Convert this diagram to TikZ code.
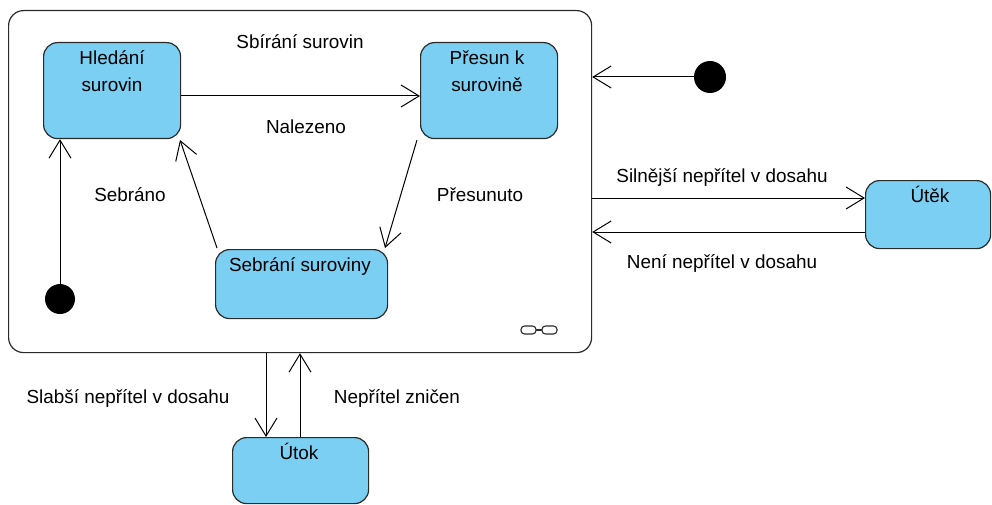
\documentclass[tikz,border=0pt]{standalone}
\usepackage{fontspec}
\setmainfont{Liberation Sans}
\usetikzlibrary{arrows.meta}
\definecolor{statefill}{HTML}{7ACFF2}
\definecolor{edge}{HTML}{2B2B2B}
\begin{document}
\begin{tikzpicture}[x=1pt,y=-1pt,
  every node/.style={font=\fontsize{18.9}{27}\selectfont, text=black},
  statebox/.style={draw=edge, line width=1.2pt, fill=statefill, rounded corners=14pt,
    anchor=north west, inner sep=0pt},
  container/.style={draw=edge, line width=1.2pt, rounded corners=15pt,
    anchor=north west, inner sep=0pt},
  startdot/.style={circle, fill=black, inner sep=0pt},
  trans/.style={draw=black, line width=1pt,
    -{Straight Barb[length=18pt,width=22pt,line width=1pt]}},
  lbl/.style={inner sep=0pt, anchor=center},
  boxtext/.style={anchor=base, inner sep=0pt}]
\useasboundingbox (0,0) rectangle (992,505);

% composite state
\node[container, minimum width=583pt, minimum height=342pt] (cont) at (8,10) {};
\node[lbl] (ctitle) at (300,42) {Sbírání surovin};

% inner states
\node[statebox, minimum width=137pt, minimum height=96pt] (hledani) at (43,42) {};
\node[boxtext] (thledani1) at (112,65) {Hledání};
\node[boxtext] (thledani2) at (112,92) {surovin};
\node[statebox, minimum width=137pt, minimum height=96pt] (presun) at (420,42) {};
\node[boxtext] (tpresun1) at (487,65) {Přesun k};
\node[boxtext] (tpresun2) at (487,92) {surovině};
\node[statebox, minimum width=172pt, minimum height=69pt] (sebrani) at (215,249) {};
\node[boxtext] (tsebrani) at (300,271) {Sebrání suroviny};

% inner initial pseudostate
\node[startdot, minimum size=30pt] (init1) at (60,299) {};

% inner transitions
\draw[trans] (init1.north) -- (hledani.south west -| init1.north);
\draw[trans] (hledani.east |- 0,96) -- (presun.west |- 0,96);
\node[lbl] (lnal) at (306,127) {Nalezeno};
\draw[trans] (417,140) -- (385,248);
\node[lbl] (lpres) at (480,195) {Přesunuto};
\draw[trans] (217,248) -- (180,140);
\node[lbl] (lseb) at (130,195) {Sebráno};

% decomposition icon
\draw[edge, line width=1.1pt, rounded corners=3.5pt] (521,326) rectangle (536,334);
\draw[edge, line width=1.1pt, rounded corners=3.5pt] (542,326) rectangle (557,334);
\draw[edge, line width=1.1pt] (536,330) -- (542,330);

% outer initial pseudostate
\node[startdot, minimum size=32pt] (init2) at (710,77) {};
\draw[trans] (init2.west) -- (cont.east |- init2.west);

% escape state
\node[statebox, minimum width=125pt, minimum height=68pt] (utek) at (865,180) {};
\node[boxtext] (tutek) at (930,202) {Útěk};
\draw[trans] (cont.east |- 0,198) -- (utek.west |- 0,198);
\node[lbl] (lsil) at (722,178) {Silnější nepřítel v dosahu};
\draw[trans] (utek.west |- 0,232) -- (cont.east |- 0,232);
\node[lbl] (lnen) at (722,264) {Není nepřítel v dosahu};

% attack state
\node[statebox, minimum width=136pt, minimum height=66pt] (utok) at (232,437) {};
\node[boxtext] (tutok) at (299,459) {Útok};
\draw[trans] (cont.south -| 266,0) -- (utok.north -| 266,0);
\node[lbl] (lsla) at (128,398) {Slabší nepřítel v dosahu};
\draw[trans] (utok.north -| 300,0) -- (cont.south -| 300,0);
\node[lbl] (lzni) at (397,398) {Nepřítel zničen};
\end{tikzpicture}
\end{document}
